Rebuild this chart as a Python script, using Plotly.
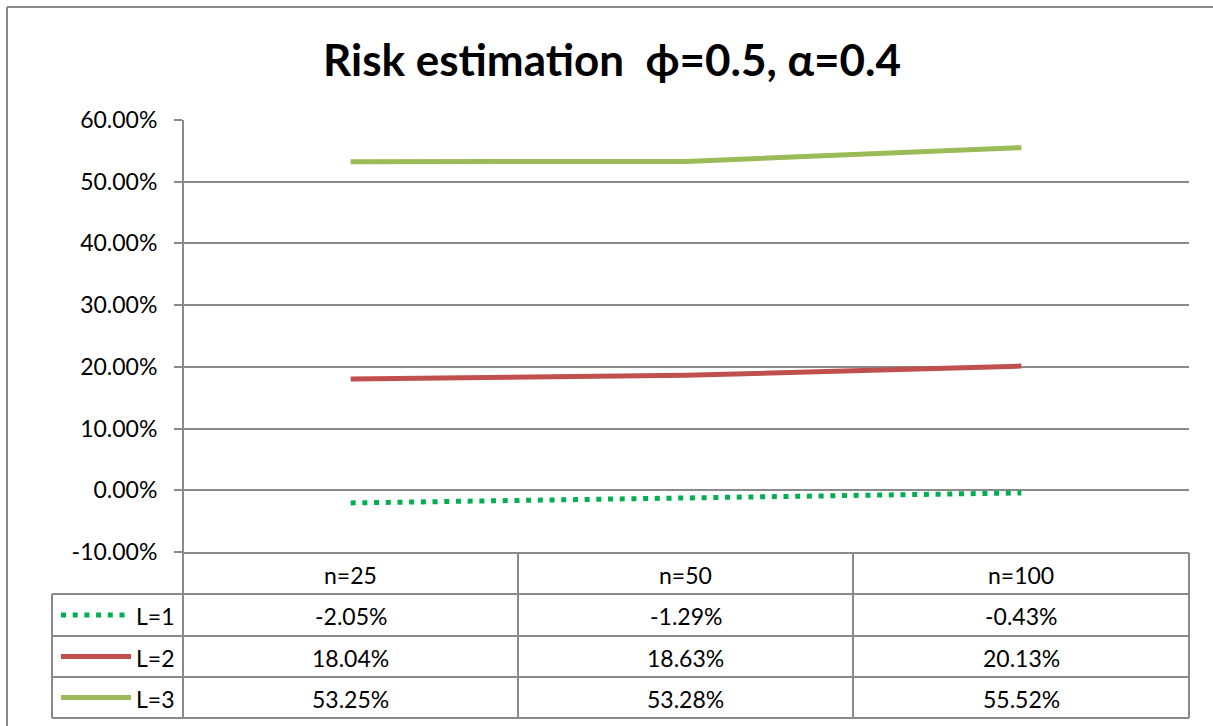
import plotly.graph_objects as go

# ---- data ----
categories = ["n=25", "n=50", "n=100"]
series_names = ["L=1", "L=2", "L=3"]
L1 = [-0.0205, -0.0129, -0.0043]
L2 = [0.1804, 0.1863, 0.2013]
L3 = [0.5325, 0.5328, 0.5552]
series_values = [L1, L2, L3]
y_ticks = [-0.1, 0.0, 0.1, 0.2, 0.3, 0.4, 0.5, 0.6]
y_ticktext = [f"{v*100:.2f}%" for v in y_ticks]
title_text = "Risk estimation  ϕ=0.5, α=0.4"

# ---- styles ----
colors = ["#00B050", "#C0504D", "#9BBB59"]
dashes = ["5px,6.7px", "solid", "solid"]
GRID = "#8a8a8a"
FONT = "Lato"
FS = 23
W, H = 1213, 726
L_, R_, T_, B_ = 183, 1189, 120, 552

def xp(px):
    return (px - L_) / (R_ - L_)

def yp(py):
    return (B_ - py) / (B_ - T_)

fig = go.Figure()
for name, vals, c, d in zip(series_names, series_values, colors, dashes):
    fig.add_trace(go.Scatter(x=categories, y=vals, mode="lines", name=name,
                             line=dict(color=c, width=5, dash=d),
                             showlegend=False))

shapes = []
def line(x0, y0, x1, y1, color=GRID, width=2, dash="solid"):
    shapes.append(dict(type="line", xref="paper", yref="paper",
                       x0=xp(x0), y0=yp(y0), x1=xp(x1), y1=yp(y1),
                       line=dict(color=color, width=width, dash=dash)))

# table geometry
row_y = [553, 594, 636, 677, 718]
col_x = [183, 518, 853, 1189]
# outer chart border
line(7, 7, 1213, 7)
line(7, 7, 7, 726)
# y axis line extended into table
line(183, 120, 183, 718)
for xv in col_x[1:]:
    line(xv, 553, xv, 718)
for yv in row_y[1:]:
    line(52, yv, 1189, yv)
line(52, row_y[1], 52, 718)

annotations = []
# header row
for i, cat in enumerate(categories):
    cx = (col_x[i] + col_x[i + 1]) / 2
    annotations.append(dict(x=xp(cx), y=yp((row_y[0] + row_y[1]) / 2 + 1), xref="paper", yref="paper",
                            text=cat, showarrow=False, font=dict(family=FONT, size=FS, color="black"),
                            xanchor="center", yanchor="middle"))
# data rows
for r, (name, vals, c, d) in enumerate(zip(series_names, series_values, colors, dashes)):
    cy = (row_y[r + 1] + row_y[r + 2]) / 2 + 1
    for i, v in enumerate(vals):
        cx = (col_x[i] + col_x[i + 1]) / 2
        annotations.append(dict(x=xp(cx), y=yp(cy), xref="paper", yref="paper",
                                text=f"{v*100:.2f}%", showarrow=False,
                                font=dict(family=FONT, size=FS, color="black"),
                                xanchor="center", yanchor="middle"))
    annotations.append(dict(x=xp(177), y=yp(cy), xref="paper", yref="paper",
                            text=name, showarrow=False,
                            font=dict(family=FONT, size=FS, color="black"),
                            xanchor="right", yanchor="middle"))
    line(61, cy - 1, 131, cy - 1, color=c, width=5, dash=d)

annotations.append(dict(x=xp(612), y=yp(59), xref="paper", yref="paper",
                        text=f"<b>{title_text}</b>", showarrow=False,
                        font=dict(family=FONT, size=44, color="black"),
                        xanchor="center", yanchor="middle"))

fig.update_layout(
    width=W, height=H,
    margin=dict(l=L_, r=W - R_, t=T_, b=H - B_, pad=0),
    paper_bgcolor="white", plot_bgcolor="white",
    shapes=shapes, annotations=annotations,
    font=dict(family=FONT, size=FS, color="black"),
)
fig.update_xaxes(type="category", range=[-0.5, 2.5], showticklabels=False,
                 showgrid=False, zeroline=False, showline=True, linecolor=GRID, linewidth=2,
                 ticks="")
fig.update_yaxes(range=[-0.1, 0.6], tickvals=y_ticks, ticktext=y_ticktext,
                 showgrid=True, gridcolor=GRID, gridwidth=2, zeroline=False,
                 showline=False, ticks="outside", ticklen=8, tickwidth=2, tickcolor=GRID,
                 ticklabelstandoff=12, tickfont=dict(family=FONT, size=FS, color="black"))

fig.write_html("out.html", config={"displayModeBar": False},
               post_script="document.body.style.margin='0px';")
